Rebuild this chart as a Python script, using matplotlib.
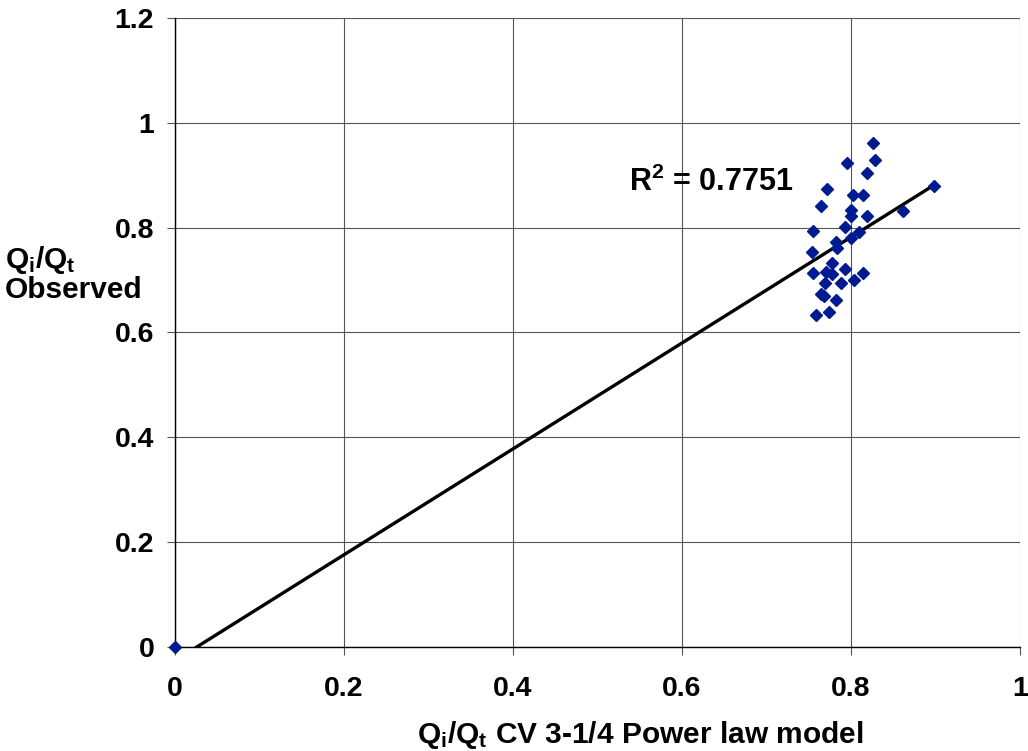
import matplotlib
matplotlib.use("Agg")
import matplotlib.pyplot as plt
import numpy as np

# ---- data ----
x_model = [0.0, 0.826, 0.828, 0.795, 0.819, 0.898, 0.772, 0.802, 0.814, 0.765,
           0.800, 0.800, 0.819, 0.861, 0.755, 0.793, 0.810, 0.800, 0.782, 0.784,
           0.754, 0.777, 0.793, 0.755, 0.771, 0.778, 0.814, 0.804, 0.769, 0.788,
           0.764, 0.768, 0.782, 0.774, 0.759]
y_obs = [0.0, 0.962, 0.930, 0.924, 0.905, 0.880, 0.873, 0.863, 0.862, 0.842,
         0.834, 0.823, 0.823, 0.832, 0.793, 0.801, 0.792, 0.780, 0.773, 0.761,
         0.753, 0.732, 0.721, 0.713, 0.715, 0.711, 0.713, 0.700, 0.694, 0.694,
         0.673, 0.670, 0.662, 0.640, 0.634]
trend_slope = 1.010
trend_intercept = -0.026
r_squared = "0.7751"
x_ticks = [0, 0.2, 0.4, 0.6, 0.8, 1]
y_ticks = [0, 0.2, 0.4, 0.6, 0.8, 1, 1.2]
x_tick_labels = ["0", "0.2", "0.4", "0.6", "0.8", "1"]
y_tick_labels = ["0", "0.2", "0.4", "0.6", "0.8", "1", "1.2"]

plt.rcParams['font.family'] = ['Liberation Sans', 'DejaVu Sans']
plt.rcParams['font.weight'] = 'bold'
plt.rcParams['mathtext.fontset'] = 'custom'
plt.rcParams['mathtext.rm'] = 'Liberation Sans:bold'
plt.rcParams['mathtext.bf'] = 'Liberation Sans:bold'
plt.rcParams['mathtext.it'] = 'Liberation Sans:bold'

fig = plt.figure(figsize=(10.28, 7.51), dpi=100)
ax = fig.add_axes([175/1028, 1 - 647/751, (1020-175)/1028, (647-18)/751])

ax.set_xlim(0, 1)
ax.set_ylim(0, 1.2)
ax.set_xticks(x_ticks)
ax.set_xticklabels(x_tick_labels)
ax.set_yticks(y_ticks)
ax.set_yticklabels(y_tick_labels)
ax.grid(True, color='#555555', linewidth=0.8)
ax.set_axisbelow(True)
for s in ['top', 'right']:
    ax.spines[s].set_visible(False)
for s in ['left', 'bottom']:
    ax.spines[s].set_color('black')
    ax.spines[s].set_linewidth(1.0)
ax.tick_params(axis='both', direction='out', length=6, width=0.8, color='#555555',
               labelsize=20.5)
ax.tick_params(axis='y', pad=9)
ax.tick_params(axis='x', pad=15)
for lab in ax.get_xticklabels() + ax.get_yticklabels():
    lab.set_fontweight('bold')

# trendline over data x range
xt = np.array([min(x_model), max(x_model)])
ax.plot(xt, trend_slope * xt + trend_intercept, color='black', linewidth=2.4, zorder=3)

ax.plot(x_model, y_obs, linestyle='none', marker='D', markersize=6.5,
        color='#001a8f', markeredgecolor='#001a8f', zorder=4, clip_on=False)

ax.text(0.537, 0.870, r"R$^{2}$ = " + r_squared, fontsize=22, fontweight='bold',
        ha='left', va='baseline', zorder=5)

fig.text(5/1028, 1 - 274/751, "Q$_{\\mathrm{i}}$/Q$_{\\mathrm{t}}$\nObserved",
         fontsize=21.5, fontweight='bold', ha='left', va='center', linespacing=1.0)
fig.text(640/1028, 1 - 735/751,
         "Q$_{\\mathrm{i}}$/Q$_{\\mathrm{t}}$ CV 3-1/4 Power law model",
         fontsize=21.5, fontweight='bold', ha='center', va='center')

fig.savefig("out.png", dpi=100)
